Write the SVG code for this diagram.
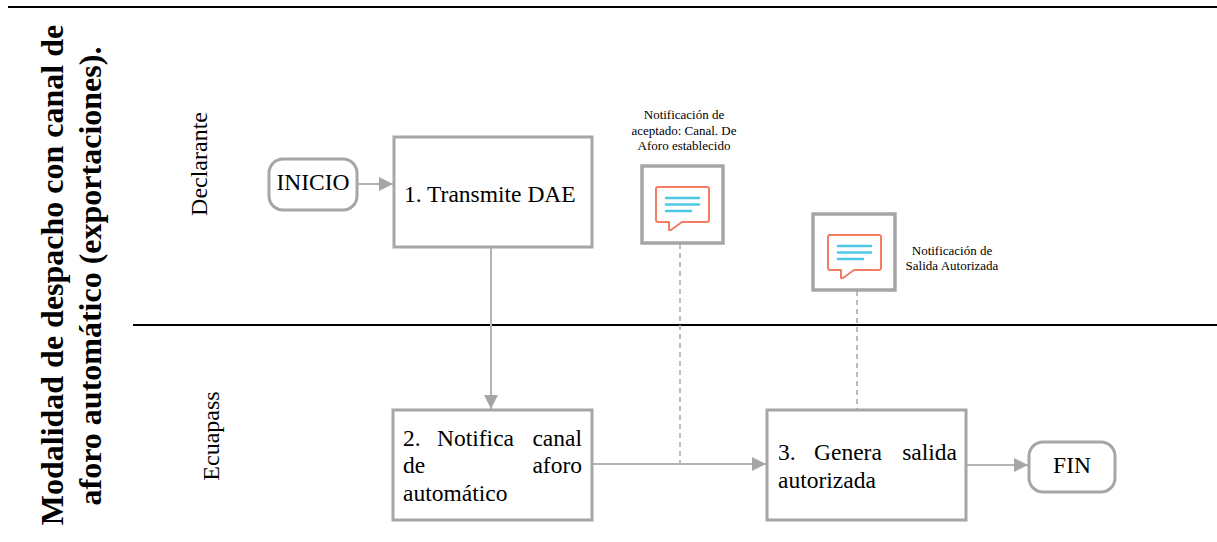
<svg xmlns="http://www.w3.org/2000/svg" xmlns:xlink="http://www.w3.org/1999/xlink" width="1217" height="542" viewBox="0 0 1217 542">
<style>
  text { font-family: "Liberation Serif", "Times New Roman", serif; fill: #000; }
  .title { font-size: 32px; font-weight: bold; }
  .lane { font-size: 24px; }
  .box { fill: #fff; stroke: #a6a6a6; stroke-width: 3; }
  .term { fill: #fff; stroke: #a6a6a6; stroke-width: 3; }
  .lbl { font-size: 23.5px; }
  .note { font-size: 13px; }
  .conn { stroke: #b3b3b3; stroke-width: 2; fill: none; }
  .dash { stroke: #a6a6a6; stroke-width: 1.5; stroke-dasharray: 5 4; fill: none; }
  .rule { stroke: #000; stroke-width: 2; }
  .nbox { fill: #fff; stroke: #a6a6a6; stroke-width: 3.5; }
  .bubble { fill: #fff; stroke: #f47c63; stroke-width: 2; stroke-linejoin: round; }
  .blines { stroke: #4cc7e6; stroke-width: 2.5; stroke-linecap: round; }
</style>
<defs>
  <marker id="arr" viewBox="0 0 14 14" refX="14" refY="7" markerWidth="14" markerHeight="14" markerUnits="userSpaceOnUse" orient="auto">
    <path d="M0,0 L14,7 L0,14 Z" fill="#a6a6a6"/>
  </marker>
  <g id="msg">
    <path class="bubble" d="M16,0 H65 Q67,0 67,2 V33 Q67,35 65,35 H40 L29,43 L27,43 V35 H16 Q14,35 14,33 V2 Q14,0 16,0 Z" transform="translate(0,21)"/>
    <line class="blines" x1="24" y1="32" x2="57" y2="32"/>
    <line class="blines" x1="24" y1="38.5" x2="57" y2="38.5"/>
    <line class="blines" x1="24" y1="45" x2="49" y2="45"/>
  </g>
</defs>

<g id="pool">
  <line class="rule" x1="8" y1="7" x2="1217" y2="7"/>
  <line class="rule" x1="133" y1="325" x2="1217" y2="325"/>
  <text class="title" transform="translate(63,275) rotate(-90)" text-anchor="middle">Modalidad de despacho con canal de</text>
  <text class="title" transform="translate(101,276) rotate(-90)" text-anchor="middle">aforo automático (exportaciones).</text>
  <text class="lane" transform="translate(207,164) rotate(-90)" text-anchor="middle">Declarante</text>
  <text class="lane" transform="translate(219,436) rotate(-90)" text-anchor="middle">Ecuapass</text>
</g>

<g id="connectors">
  <line class="conn" x1="357" y1="184" x2="393" y2="184" marker-end="url(#arr)"/>
  <line class="conn" x1="491" y1="247" x2="491" y2="409" marker-end="url(#arr)"/>
  <line class="conn" x1="592" y1="464" x2="766" y2="464" marker-end="url(#arr)"/>
  <line class="conn" x1="966" y1="465" x2="1028" y2="465" marker-end="url(#arr)"/>
  <line class="dash" x1="680" y1="244" x2="680" y2="463"/>
  <line class="dash" x1="857" y1="291" x2="857" y2="409"/>
</g>

<g id="inicio">
  <rect class="term" x="269" y="159" width="88" height="51" rx="14"/>
  <text class="lbl" x="313" y="190" text-anchor="middle">INICIO</text>
</g>

<g id="n1">
  <rect class="box" x="394" y="137" width="198" height="110"/>
  <text class="lbl" x="404" y="202">1. Transmite DAE</text>
</g>

<g id="n2">
  <rect class="box" x="393" y="410" width="199" height="110"/>
  <text class="lbl" x="403" y="446">2.</text>
  <text class="lbl" x="437" y="446">Notifica</text>
  <text class="lbl" x="582" y="446" text-anchor="end">canal</text>
  <text class="lbl" x="403" y="473">de</text>
  <text class="lbl" x="582" y="473" text-anchor="end">aforo</text>
  <text class="lbl" x="403" y="501">automático</text>
</g>

<g id="n3">
  <rect class="box" x="767" y="410" width="199" height="110"/>
  <text class="lbl" x="778" y="460">3.</text>
  <text class="lbl" x="814" y="460">Genera</text>
  <text class="lbl" x="957" y="460" text-anchor="end">salida</text>
  <text class="lbl" x="778" y="488">autorizada</text>
</g>

<g id="fin">
  <rect class="term" x="1029" y="442" width="86" height="50" rx="14"/>
  <text class="lbl" x="1072" y="473" text-anchor="middle">FIN</text>
</g>

<g id="msg1">
  <rect class="nbox" x="642" y="166" width="81" height="77"/>
  <use xlink:href="#msg" href="#msg" transform="translate(642,166)"/>
  <text class="note" x="684" y="119" text-anchor="middle">Notificación de</text>
  <text class="note" x="684" y="134.5" text-anchor="middle">aceptado: Canal. De</text>
  <text class="note" x="684" y="150" text-anchor="middle">Aforo establecido</text>
</g>

<g id="msg2">
  <rect class="nbox" x="813" y="214" width="82" height="76"/>
  <use xlink:href="#msg" href="#msg" transform="translate(814,214)"/>
  <text class="note" x="952" y="255" text-anchor="middle">Notificación de</text>
  <text class="note" x="952" y="270" text-anchor="middle">Salida Autorizada</text>
</g>
</svg>
